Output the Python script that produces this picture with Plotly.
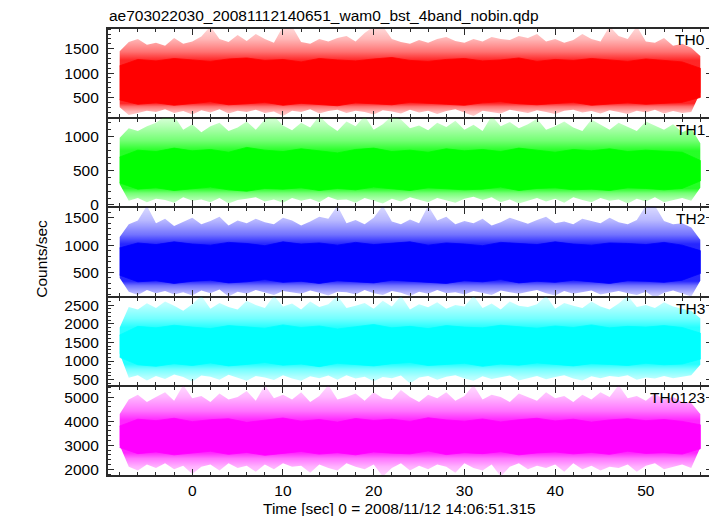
import plotly.graph_objects as go

# ---------------- data ----------------
# envelope sampled every 1 s (t = -8 .. 56), core band every 2 s
t_env = list(range(-8, 57))
t_core = list(range(-8, 57, 2))

panel_names = ["TH0", "TH1", "TH2", "TH3", "TH0123"]
colors = ["#ff0000", "#00ff00", "#0000ff", "#00ffff", "#ff00ff"]
y_ranges = [[87, 1925], [-34, 1276], [56, 1693], [320, 2723], [1720, 5445]]
y_major = [500, 500, 500, 500, 1000]
y_minor = [100, 100, 100, 100, 200]

th0_hi = [1450, 1640, 1700, 1580, 1620, 1560, 1720, 1600, 1650, 1750,
          1960, 1700, 1640, 1780, 1660, 1800, 1700, 1620, 1960, 1960,
          1640, 1600, 1700, 1650, 1720, 1760, 1650, 1820, 1960, 1960,
          1700, 1640, 1600, 1680, 1620, 1700, 1740, 1660, 1620, 1700,
          1650, 1740, 1700, 1680, 1760, 1720, 1800, 1650, 1700, 1620,
          1680, 1800, 1700, 1650, 1960, 1760, 1700, 1960, 1650, 1620,
          1720, 1560, 1600, 1520, 1350]
th0_lo = [300, 140, 180, 230, 200, 260, 180, 220, 150, 240,
          190, 260, 170, 230, 200, 250, 180, 210, 120, 230,
          200, 260, 170, 220, 250, 180, 230, 200, 150, 240,
          210, 170, 250, 190, 230, 160, 220, 260, 190, 120,
          230, 200, 170, 250, 210, 180, 240, 200, 160, 230,
          250, 190, 220, 170, 240, 200, 160, 230, 190, 250,
          170, 220, 180, 200, 600]
th0_core_hi = [1150, 1280, 1250, 1300, 1270, 1240, 1290, 1310, 1260, 1280,
               1230, 1300, 1270, 1250, 1290, 1320, 1260, 1240, 1280, 1300,
               1250, 1270, 1310, 1240, 1280, 1260, 1300, 1270, 1240, 1290,
               1260, 1230, 1100]
th0_core_lo = [450, 360, 390, 340, 380, 410, 350, 370, 400, 340,
               380, 360, 330, 390, 370, 350, 400, 380, 360, 340,
               390, 410, 370, 350, 380, 400, 340, 370, 390, 360,
               380, 400, 500]

th1_hi = [980, 1120, 1080, 1150, 1200, 1300, 1300, 1100, 1180, 1060,
          1150, 1200, 1080, 1130, 1220, 1100, 1250, 1300, 1160, 1090,
          1200, 1130, 1300, 1170, 1080, 1220, 1150, 1300, 1100, 1180,
          1300, 1250, 1120, 1160, 1090, 1200, 1140, 1230, 1100, 1170,
          1080, 1300, 1150, 1210, 1120, 1180, 1260, 1100, 1150, 1220,
          1130, 1080, 1250, 1170, 1100, 1200, 1140, 1080, 1220, 1160,
          1100, 1180, 1060, 1120, 900]
th1_lo = [300, 60, 100, 40, 90, 70, 30, 110, 60, 80,
          40, 100, 20, 70, 90, 110, 50, 80, 30, 100,
          60, 90, 40, 120, 70, 80, 30, 100, 60, 20,
          90, 50, 110, 70, 40, 100, 60, 30, 90, 120,
          70, 110, 40, 80, 20, 60, 100, 50, 90, 30,
          110, 70, 40, 100, 60, 80, 20, 90, 50, 110,
          40, 70, 100, 60, 250]
th1_core_hi = [700, 800, 780, 830, 790, 810, 770, 840, 800, 780,
               820, 790, 760, 810, 830, 780, 800, 770, 820, 790,
               810, 780, 830, 800, 770, 810, 790, 820, 780, 800,
               790, 770, 650]
th1_core_lo = [320, 230, 250, 210, 240, 260, 220, 200, 240, 230,
               250, 210, 240, 220, 260, 230, 210, 250, 240, 220,
               230, 260, 210, 240, 250, 220, 230, 210, 250, 240,
               220, 240, 350]

th2_hi = [1150, 1380, 1450, 1720, 1400, 1480, 1350, 1420, 1500, 1380,
          1440, 1520, 1360, 1450, 1400, 1480, 1420, 1380, 1500, 1450,
          1360, 1430, 1520, 1480, 1720, 1400, 1460, 1380, 1500, 1720,
          1430, 1380, 1470, 1400, 1720, 1450, 1520, 1380, 1440, 1400,
          1480, 1360, 1420, 1500, 1450, 1390, 1460, 1520, 1400, 1430,
          1380, 1480, 1440, 1400, 1500, 1420, 1380, 1460, 1720, 1720,
          1440, 1380, 1400, 1320, 1100]
th2_lo = [400, 150, 90, 180, 120, 160, 100, 140, 80, 170,
          120, 190, 60, 150, 110, 180, 130, 90, 160, 140,
          110, 170, 130, 80, 150, 140, 100, 180, 120, 90,
          160, 130, 70, 150, 110, 180, 120, 140, 100, 160,
          130, 90, 170, 140, 110, 150, 180, 120, 80, 160,
          110, 140, 170, 100, 130, 160, 120, 90, 150, 40,
          130, 170, 110, 60, 350]
th2_core_hi = [950, 1040, 1010, 1060, 1020, 1000, 1050, 1030, 990, 1060,
               1020, 1040, 1000, 1050, 1010, 1030, 1060, 1000, 1040, 1020,
               990, 1050, 1030, 1010, 1060, 1020, 1000, 1040, 1030, 1010,
               1050, 1000, 900]
th2_core_lo = [450, 330, 350, 300, 340, 360, 310, 330, 370, 320,
               340, 300, 350, 330, 310, 360, 340, 320, 300, 350,
               330, 370, 310, 340, 320, 360, 330, 300, 350, 340,
               320, 360, 480]

th3_hi = [1900, 2450, 2380, 2550, 2420, 2600, 2480, 2350, 2520, 2750,
          2400, 2560, 2450, 2380, 2620, 2500, 2420, 2750, 2460, 2540,
          2380, 2600, 2450, 2520, 2750, 2420, 2480, 2560, 2400, 2620,
          2460, 2750, 2380, 2520, 2440, 2580, 2400, 2500, 2460, 2750,
          2420, 2540, 2380, 2600, 2480, 2450, 2520, 2750, 2400, 2560,
          2480, 2420, 2600, 2460, 2380, 2540, 2750, 2450, 2500, 2420,
          2580, 2460, 2400, 2350, 2150]
th3_lo = [1200, 550, 620, 480, 600, 520, 640, 570, 450, 610,
          580, 500, 630, 540, 470, 600, 560, 490, 620, 530,
          470, 590, 540, 610, 500, 620, 530, 580, 460, 570,
          540, 610, 400, 560, 600, 500, 580, 620, 530, 470,
          590, 520, 560, 610, 480, 550, 600, 510, 570, 620,
          530, 480, 590, 540, 600, 570, 620, 500, 560, 530,
          600, 540, 580, 620, 900]
th3_core_hi = [1700, 1930, 1890, 1960, 1910, 1870, 1950, 1920, 1880, 1970,
               1900, 1940, 1860, 1920, 1980, 1890, 1930, 1870, 1950, 1910,
               1890, 1960, 1920, 1880, 1940, 1900, 1970, 1890, 1930, 1910,
               1950, 1900, 1750]
th3_core_lo = [1100, 900, 860, 930, 880, 950, 870, 910, 960, 890,
               920, 850, 940, 900, 870, 930, 960, 880, 910, 940,
               860, 920, 890, 950, 900, 870, 930, 910, 880, 940,
               900, 920, 1050]

th0123_hi = [4300, 4900, 5100, 4800, 5000, 5200, 4850, 5500, 4950, 5050,
             4800, 5150, 4900, 5000, 5250, 4850, 5500, 4950, 5100, 4900,
             5200, 4800, 5050, 5500, 4900, 5000, 5150, 4850, 5200, 4950,
             4900, 5300, 5000, 4800, 5100, 4950, 5200, 4850, 5050, 5500,
             4900, 5100, 5000, 4800, 5150, 5000, 4850, 5200, 4950, 5050,
             4800, 5100, 4900, 5200, 5000, 5500, 4950, 5050, 4850, 5150,
             4900, 5000, 4800, 4750, 4300]
th0123_lo = [3000, 2100, 1950, 2200, 2050, 2250, 2000, 2150, 1800, 2100,
             2200, 1950, 2250, 2050, 2150, 1900, 2200, 2000, 2250, 2100,
             2150, 1850, 2200, 2050, 1950, 2250, 2100, 2000, 2200, 1700,
             2050, 2250, 1950, 2150, 2000, 2200, 2100, 1850, 2250, 2050,
             1950, 2200, 1700, 2100, 2250, 2000, 2150, 2050, 2200, 1900,
             2250, 2000, 2150, 1950, 2100, 2050, 2200, 1900, 2150, 2250,
             2000, 2100, 2200, 2050, 2900]
th0123_core_hi = [3800, 4080, 4020, 4120, 3980, 4060, 4100, 3950, 4040, 4130,
                  4000, 4070, 3960, 4110, 4030, 4080, 3990, 4140, 4050, 4000,
                  4090, 3970, 4060, 4120, 4010, 4080, 3960, 4050, 4100, 4020,
                  4070, 3990, 3850]
th0123_core_lo = [2900, 2650, 2720, 2600, 2680, 2750, 2620, 2700, 2580, 2660,
                  2740, 2630, 2690, 2600, 2720, 2670, 2640, 2760, 2610, 2690,
                  2650, 2730, 2600, 2680, 2720, 2640, 2700, 2620, 2750, 2660,
                  2690, 2630, 2850]

env_hi = [th0_hi, th1_hi, th2_hi, th3_hi, th0123_hi]
env_lo = [th0_lo, th1_lo, th2_lo, th3_lo, th0123_lo]
core_hi = [th0_core_hi, th1_core_hi, th2_core_hi, th3_core_hi, th0123_core_hi]
core_lo = [th0_core_lo, th1_core_lo, th2_core_lo, th3_core_lo, th0123_core_lo]

x_range = [-9.4, 57.4]
title_text = "ae703022030_20081112140651_wam0_bst_4band_nobin.qdp"
x_title = "Time [sec] 0 = 2008/11/12 14:06:51.315"
y_title = "Counts/sec"

# ---------------- figure ----------------
FONT = "Liberation Sans, Arial, Helvetica, sans-serif"
FS = 15.5
frame_col = "#2a2a2a"

# the page body has an 8 px margin, so the figure is made 8 px smaller
# and all positions are offset accordingly
OFF = 8
W, H = 717 - OFF, 516 - OFF
PL, PR, PT, PB = 107 - OFF, 4, 28 - OFF, H - (476 - OFF)


def rgba(hexcol, a):
    h = hexcol.lstrip("#")
    r, g, b = int(h[0:2], 16), int(h[2:4], 16), int(h[4:6], 16)
    return f"rgba({r},{g},{b},{a})"


def mean(v):
    return sum(v) / len(v)


fig = go.Figure()
n = len(panel_names)
for i in range(n):
    xa = "x" if i == 0 else f"x{i+1}"
    ya = "y" if i == 0 else f"y{i+1}"
    col = colors[i]
    a, b = y_ranges[i]
    nz = lambda v: min(max((v - a) / (b - a), 0.0), 1.0)
    p_el, p_cl = nz(mean(env_lo[i])), nz(mean(core_lo[i]))
    p_ch, p_eh = nz(mean(core_hi[i])), nz(mean(env_hi[i]))
    cscale = [
        [0.0, rgba(col, 0.15)],
        [p_el, rgba(col, 0.30)],
        [p_el + 0.6 * (p_cl - p_el), rgba(col, 0.55)],
        [p_cl, rgba(col, 0.85)],
        [p_ch, rgba(col, 0.85)],
        [p_ch + 0.4 * (p_eh - p_ch), rgba(col, 0.55)],
        [p_eh, rgba(col, 0.28)],
        [1.0, rgba(col, 0.15)],
    ]
    # outer envelope (thin spikes) - fading
    fig.add_trace(go.Scatter(
        x=t_env + t_env[::-1], y=env_hi[i] + env_lo[i][::-1],
        fill="toself",
        fillgradient=dict(type="vertical", colorscale=cscale, start=a, stop=b),
        mode="lines", line=dict(width=0),
        xaxis=xa, yaxis=ya, hoverinfo="skip", showlegend=False))
    # dense core - solid
    fig.add_trace(go.Scatter(
        x=t_core + t_core[::-1], y=core_hi[i] + core_lo[i][::-1],
        fill="toself", fillcolor=col, mode="lines",
        line=dict(width=0.8, color=col),
        xaxis=xa, yaxis=ya, hoverinfo="skip", showlegend=False))

layout = dict(
    width=W, height=H, autosize=False,
    margin=dict(l=PL, r=PR, t=PT, b=PB, pad=0),
    paper_bgcolor="white", plot_bgcolor="white",
    font=dict(family=FONT, size=FS, color="black"),
    showlegend=False,
)

axis_common = dict(
    showline=True, linecolor=frame_col, linewidth=1.1, mirror="ticks",
    ticks="inside", ticklen=7, tickwidth=1.3, tickcolor=frame_col,
    showgrid=False, zeroline=False,
    tickfont=dict(family=FONT, size=FS, color="black"),
)

annotations = []
h = 1.0 / n
for i in range(n):
    top = 1 - i * h
    bot = 1 - (i + 1) * h
    xkey = "xaxis" if i == 0 else f"xaxis{i+1}"
    ykey = "yaxis" if i == 0 else f"yaxis{i+1}"
    yanchor = "y" if i == 0 else f"y{i+1}"
    xanchor = "x" if i == 0 else f"x{i+1}"
    layout[xkey] = dict(
        axis_common, domain=[0, 1], anchor=yanchor, range=x_range,
        dtick=10, tick0=0, showticklabels=(i == n - 1),
        minor=dict(dtick=2, ticklen=4, tickwidth=1.1, tickcolor=frame_col, ticks="inside"),
        **({} if i == 0 else {"matches": "x"}),
    )
    layout[ykey] = dict(
        axis_common, domain=[bot, top], anchor=xanchor, range=y_ranges[i],
        dtick=y_major[i], tick0=0, ticklabelstandoff=4,
        minor=dict(dtick=y_minor[i], ticklen=4, tickwidth=1.1, tickcolor=frame_col, ticks="inside"),
    )
    annotations.append(dict(
        text=panel_names[i], xref="paper", yref="paper", x=1, y=top,
        xanchor="right", yanchor="top", xshift=-6, yshift=-1, showarrow=False,
        font=dict(family=FONT, size=FS, color="black")))

annotations.append(dict(
    text=title_text, xref="paper", yref="paper", x=0, y=1,
    xanchor="left", yanchor="bottom", yshift=2, showarrow=False,
    font=dict(family=FONT, size=FS, color="black")))
annotations.append(dict(
    text=x_title, xref="paper", yref="paper", x=0.482, y=0,
    xanchor="center", yanchor="top", yshift=-22, showarrow=False,
    font=dict(family=FONT, size=FS, color="black")))
annotations.append(dict(
    text=y_title, xref="paper", yref="paper", x=-0.108, y=0.484,
    xanchor="center", yanchor="middle", textangle=-90, showarrow=False,
    font=dict(family=FONT, size=FS, color="black")))

layout["annotations"] = annotations
layout["shapes"] = [dict(type="rect", xref="paper", yref="paper", x0=0, x1=1, y0=0, y1=1,
                         line=dict(color=frame_col, width=2), layer="above")]
fig.update_layout(**layout)
fig.write_html("out.html")
